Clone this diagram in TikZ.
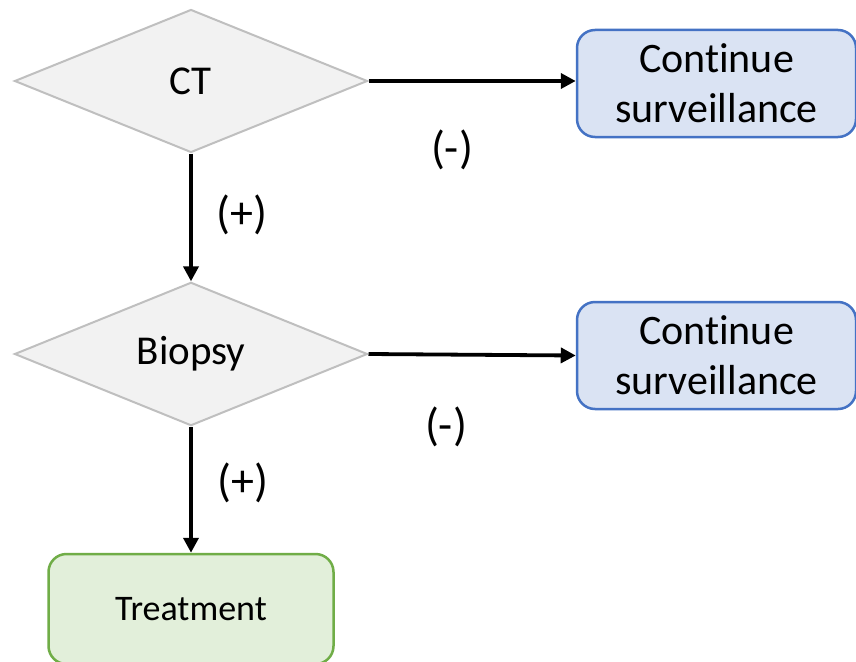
\documentclass[tikz,border=0pt]{standalone}
\usepackage{fontspec}
\setmainfont[Ligatures=NoCommon]{Carlito}
\usetikzlibrary{shapes.geometric,arrows.meta}
\definecolor{decfill}{HTML}{F2F2F2}
\definecolor{decline}{HTML}{BFBFBF}
\definecolor{bluefill}{HTML}{DAE3F3}
\definecolor{blueline}{HTML}{4472C4}
\definecolor{greenfill}{HTML}{E2EFDA}
\definecolor{greenline}{HTML}{70AD47}
\tikzset{
  decision/.style={diamond, draw=decline, fill=decfill, line width=2pt,
    inner sep=0pt, minimum width=353pt, minimum height=143pt,
    font=\fontsize{41}{44}\selectfont},
  survbox/.style={rectangle, rounded corners=18pt, draw=blueline, fill=bluefill,
    line width=2.5pt, minimum width=279pt, minimum height=107pt,
    align=center, font=\fontsize{42}{50}\selectfont},
  treatbox/.style={rectangle, rounded corners=18pt, draw=greenline, fill=greenfill,
    line width=2.5pt, minimum width=285pt, minimum height=110pt,
    font=\fontsize{36}{40}\selectfont},
  flow/.style={line width=3.8pt, -{Triangle[length=15pt,width=15pt]}},
  lbl/.style={font=\fontsize{46}{50}\selectfont}
}
\begin{document}
\begin{tikzpicture}[x=1pt,y=-1pt]
  \useasboundingbox (0,0) rectangle (856,661);
  \fill[white] (0,0) rectangle (856,661);

  \node[decision] (ct) at (191,81) {CT};
  \node[decision] (bio) at (191,354) {Biopsy};
  \node[survbox] (s1) at (716.5,83.5) {Continue\\surveillance};
  \node[survbox] (s2) at (716.5,355.5) {Continue\\surveillance};
  \node[treatbox] (tr) at (191,609) {Treatment};

  \draw[flow] (ct.east) -- (s1.west |- ct.east);
  \draw[flow] (ct.south) -- (bio.north);
  \draw[flow] (bio.east) -- (s2.west);
  \draw[flow] (bio.south) -- (tr.north);

  \node[lbl] (m1) at (452,150) {(-)};
  \node[lbl] (p1) at (242,215) {(+)};
  \node[lbl] (m2) at (446,427) {(-)};
  \node[lbl] (p2) at (243,483) {(+)};
\end{tikzpicture}
\end{document}
